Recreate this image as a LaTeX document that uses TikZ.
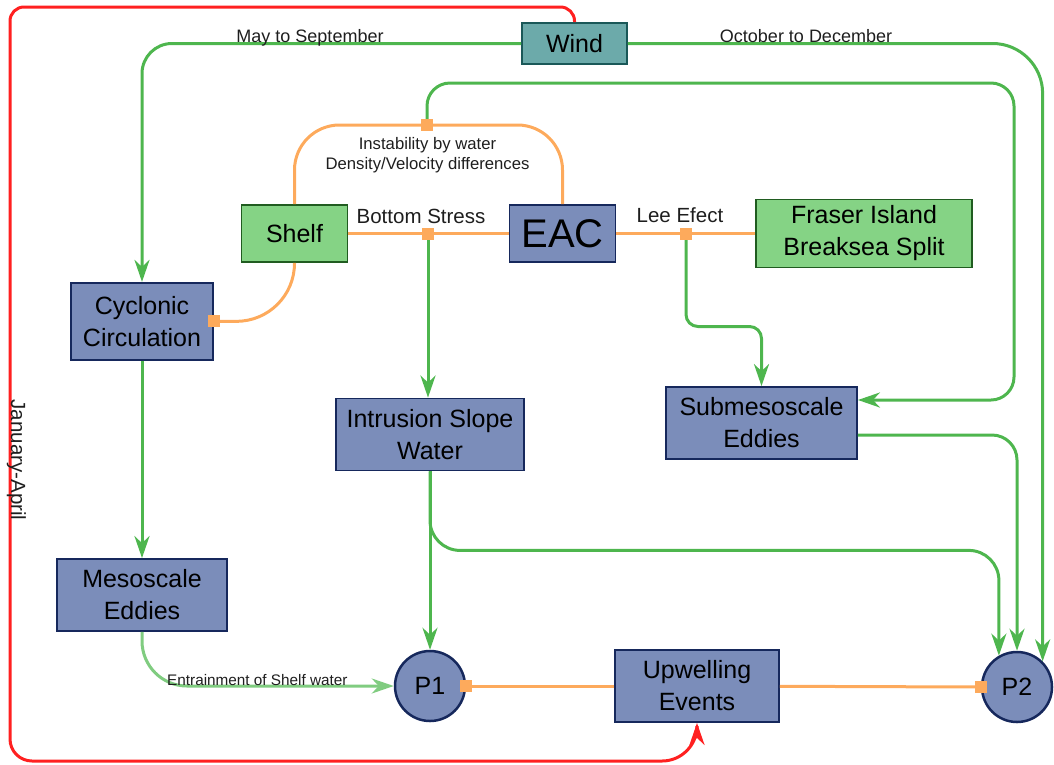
\documentclass[tikz,border=0pt]{standalone}
\usepackage{fontspec}
\setmainfont{Liberation Sans}
\usetikzlibrary{arrows.meta}

\definecolor{boxblue}{RGB}{123,141,186}
\definecolor{boxedge}{RGB}{22,40,92}
\definecolor{landgreen}{RGB}{133,211,133}
\definecolor{landedge}{RGB}{32,92,32}
\definecolor{windteal}{RGB}{108,170,170}
\definecolor{windedge}{RGB}{26,88,88}
\definecolor{flowgreen}{RGB}{78,182,78}
\definecolor{palegreen}{RGB}{128,204,128}
\definecolor{linkorange}{RGB}{253,170,92}
\definecolor{seasonred}{RGB}{255,32,32}
\definecolor{labelgray}{RGB}{30,30,30}

\tikzset{
  nodefont/.style={font=\fontsize{25}{32}\selectfont},
  procbox/.style={draw=boxedge, fill=boxblue, line width=1.8pt, inner sep=0pt,
                  align=center, nodefont},
  landbox/.style={draw=landedge, fill=landgreen, line width=1.8pt, inner sep=0pt,
                  align=center, nodefont},
  windbox/.style={draw=windedge, fill=windteal, line width=1.8pt, inner sep=0pt,
                  align=center, nodefont},
  pcircle/.style={circle, draw=boxedge, fill=boxblue, line width=2.5pt,
                  inner sep=0pt, minimum size=70pt, nodefont},
  tipped/.style={-{Stealth[length=22pt,width=15pt,inset=7pt]}},
  gline/.style={draw=flowgreen, line width=3pt, tipped},
  pline/.style={draw=palegreen, line width=3pt, tipped},
  oline/.style={draw=linkorange, line width=3pt},
  rline/.style={draw=seasonred, line width=3pt, tipped},
  jsq/.style={rectangle, fill=linkorange, minimum size=12pt, inner sep=0pt},
  lblA/.style={text=labelgray, inner sep=0pt, font=\fontsize{18}{22}\selectfont},
  lblB/.style={text=labelgray, inner sep=0pt, font=\fontsize{20.5}{24}\selectfont},
  lblC/.style={text=labelgray, inner sep=0pt, font=\fontsize{16.7}{20}\selectfont},
  lblD/.style={text=labelgray, inner sep=0pt, font=\fontsize{15.3}{18}\selectfont},
}

\begin{document}
\begin{tikzpicture}[x=1pt,y=-1pt]
  \useasboundingbox (0,0) rectangle (1054,764);

  % main boxes
  \node[windbox, minimum width=105pt, minimum height=41pt] (wind) at (574.5,43.5) {Wind};
  \node[landbox, minimum width=106pt, minimum height=57pt] (shelf) at (294.5,233.5) {Shelf};
  \node[procbox, minimum width=106pt, minimum height=57pt] (eac) at (562.5,233.5)
       {\fontsize{40}{40}\selectfont EAC};
  \node[landbox, minimum width=216pt, minimum height=68pt] (fraser) at (864,233.5)
       {Fraser Island\\Breaksea Split};
  \node[procbox, minimum width=142pt, minimum height=77pt] (cyc) at (142,321.3)
       {Cyclonic\\Circulation};
  \node[procbox, minimum width=188pt, minimum height=72pt] (intr) at (430,434.5)
       {Intrusion Slope\\Water};
  \node[procbox, minimum width=191pt, minimum height=72pt] (sub) at (761.5,423)
       {Submesoscale\\Eddies};
  \node[procbox, minimum width=170pt, minimum height=72pt] (meso) at (142,595)
       {Mesoscale\\Eddies};
  \node[procbox, minimum width=164pt, minimum height=72pt] (upw) at (697,686)
       {Upwelling\\Events};
  \node[pcircle] (p1) at (430,686) {P1};
  \node[pcircle] (p2) at (1017,687) {P2};

  % junction points of the orange links
  \coordinate (jstress) at (428,233.5);
  \coordinate (jinst) at (427,125);
  \coordinate (jlee) at (686,233.5);
  \coordinate (jcyc) at (cyc.east);
  \coordinate (jp1) at (p1.east);
  \coordinate (jp2) at (p2.west);

  % orange interaction links
  \draw[oline] (shelf) -- (eac);
  \draw[oline, rounded corners=45pt] (shelf.north) |- (jinst) -| (eac.north);
  \draw[oline] (eac) -- (fraser);
  \draw[oline, rounded corners=58pt] (shelf.south) |- (jcyc);
  \draw[oline] (jp1) -- (upw);
  \draw[oline] (upw) -- (jp2);

  % green flows
  \draw[gline] (jstress) -- (jstress |- intr.north);
  \draw[gline, rounded corners=12pt] (jlee) -- ++(0,93) -| (sub.north);
  \draw[gline, rounded corners=23pt] (jinst) |- (1014,83) |- ([yshift=23pt]sub.east);
  \draw[gline, rounded corners=30pt] (wind.west) -| (cyc.north);
  \draw[gline, rounded corners=50pt] (wind.east) -| (p2.45);
  \draw[gline] (cyc) -- (meso);
  \draw[gline] (intr.south) -- (p1.north);
  \draw[gline, rounded corners=30pt] (intr.south) -- ++(0,79) -| (p2.120);
  \draw[gline, rounded corners=25pt] ([yshift=-12pt]sub.east) -| (p2.north);
  \draw[pline, rounded corners=45pt] (meso.south) |- (p1.west);

  % seasonal link
  \draw[rline] (wind.north) [rounded corners=14pt] |- (10,7)
       [rounded corners=22pt] -- (10,761)
       [rounded corners=35pt] -- (upw.south |- 0,761)
       [rounded corners=8pt] -- (upw.south);

  % junction markers
  \node[jsq] (qstress) at (jstress) {};
  \node[jsq] (qinst) at (jinst) {};
  \node[jsq] (qlee) at (jlee) {};
  \node[jsq] (qcyc) at (jcyc) {};
  \node[jsq] (qp1) at (jp1) {};
  \node[jsq] (qp2) at (jp2) {};

  % labels
  \node[lblA, anchor=base] (lmay) at (310,42) {May to September};
  \node[lblA, anchor=base] (loct) at (806,42) {October to December};
  \node[lblC, anchor=base] (linst1) at (427.5,149) {Instability by water};
  \node[lblC, anchor=base] (linst2) at (427.5,169) {Density/Velocity differences};
  \node[lblB, anchor=base] (lstress) at (421,223) {Bottom Stress};
  \node[lblB, anchor=base] (llee) at (680,222.5) {Lee Efect};
  \node[lblD, anchor=base west] (lentr) at (167,685) {Entrainment of Shelf water};
  \node[lblB, rotate=-90, anchor=base] (ljan) at (11,460) {January-April};
\end{tikzpicture}
\end{document}
